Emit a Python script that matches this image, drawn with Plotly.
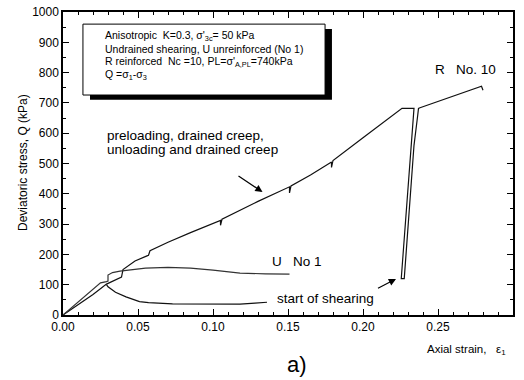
import plotly.graph_objects as go

# Reinforced specimen R (No. 10): preloading with creep/unloading marks,
# then the undrained shearing loop and continued loading.
r_strain = [0.0, 0.010, 0.020, 0.029, 0.035, 0.039, 0.040, 0.048, 0.056, 0.057, 0.058,
            0.070, 0.085, 0.105, 0.105, 0.106, 0.130, 0.151, 0.151, 0.152, 0.165, 0.179,
            0.179, 0.180, 0.200, 0.226, 0.234, 0.2255, 0.2275, 0.230, 0.234, 0.2365, 0.237,
            0.238, 0.250, 0.265, 0.279, 0.280]
r_stress = [0, 33, 68, 102, 116, 125, 150, 178, 195, 197, 212,
            240, 272, 312, 296, 316, 375, 423, 403, 426, 462, 505,
            487, 510, 585, 682, 682, 120, 120, 300, 560, 660, 682,
            684, 705, 730, 755, 742]

# Unreinforced specimen U (No. 1), undrained shearing
u_strain = [0.0, 0.010, 0.020, 0.025, 0.029, 0.030, 0.030, 0.033, 0.038, 0.045, 0.055,
            0.070, 0.085, 0.100, 0.118, 0.135, 0.151]
u_stress = [0, 42, 84, 106, 110, 112, 132, 140, 145, 150, 155,
            157, 155, 148, 138, 136, 135]

# Lower branch following the peak of U
low_strain = [0.029, 0.030, 0.035, 0.042, 0.051, 0.057, 0.073, 0.095, 0.118, 0.128, 0.136]
low_stress = [100, 93, 75, 60, 44, 41, 37, 36, 36, 39, 42]

x_ticks = [0.00, 0.05, 0.10, 0.15, 0.20, 0.25, 0.30]
y_ticks = [0, 100, 200, 300, 400, 500, 600, 700, 800, 900, 1000]

FONT = "Liberation Sans, Arial, sans-serif"

fig = go.Figure()
for xs, ys, col in [(r_strain, r_stress, "#111"), (u_strain, u_stress, "#333"),
                    (low_strain, low_stress, "#111")]:
    fig.add_trace(go.Scatter(x=xs, y=ys, mode="lines",
                             line=dict(color=col, width=1.2), showlegend=False,
                             hoverinfo="skip"))

axis_common = dict(showline=True, linecolor="black", linewidth=1.5, mirror="allticks",
                   ticks="inside", ticklen=6, tickwidth=1.2, tickcolor="black",
                   showgrid=False, zeroline=False, automargin=False,
                   tickfont=dict(family=FONT, size=12, color="black"))

fig.update_xaxes(range=[0, 0.30], tickvals=x_ticks, tickformat=".2f",
                 minor=dict(dtick=0.01, ticks="inside", ticklen=3, tickcolor="black"),
                 **axis_common)
fig.update_yaxes(range=[0, 1000], tickvals=y_ticks,
                 minor=dict(dtick=50, ticks="inside", ticklen=3, tickcolor="black"),
                 **axis_common)

# Info box with drop shadow
fig.add_shape(type="rect", xref="x", yref="y", x0=0.0180, x1=0.1793, y0=710, y1=944,
              fillcolor="black", line=dict(width=0), layer="above")
fig.add_shape(type="rect", xref="x", yref="y", x0=0.0133, x1=0.1747, y0=726, y1=960,
              fillcolor="white", line=dict(color="black", width=1), layer="above")

box_lines = [
    ("Anisotropic  K=0.3, σ'<sub>3c</sub>= 50 kPa", 921),
    ("Undrained shearing, U unreinforced (No 1)", 878),
    ("R reinforced  Nc =10, PL=σ'<sub>A,PL</sub>=740kPa", 835),
    ("Q =σ<sub>1</sub>-σ<sub>3</sub>", 792),
]
for txt, yv in box_lines:
    fig.add_annotation(x=0.0267, y=yv, xref="x", yref="y", text=txt, showarrow=False,
                       xanchor="left", yanchor="middle",
                       font=dict(family=FONT, size=10.5, color="black"))

labels = [
    ("preloading, drained creep,", 0.028, 594, "left"),
    ("unloading and drained creep", 0.028, 545, "left"),
    ("R   No. 10", 0.268, 809, "center"),
    ("U   No 1", 0.156, 175, "center"),
    ("start of shearing", 0.1413, 53, "left"),
]
for txt, xv, yv, anc in labels:
    fig.add_annotation(x=xv, y=yv, xref="x", yref="y", text=txt, showarrow=False,
                       xanchor=anc, yanchor="middle",
                       font=dict(family=FONT, size=13.5, color="black"))

# Pointer arrows
for hx, hy, tx, ty in [(0.133, 406, 0.116, 462), (0.222, 119, 0.209, 86)]:
    fig.add_annotation(x=hx, y=hy, ax=tx, ay=ty, xref="x", yref="y", axref="x", ayref="y",
                       text="", showarrow=True, arrowhead=2, arrowsize=1.2,
                       arrowwidth=1.2, arrowcolor="black")

# Axis titles and panel label
fig.add_annotation(x=-0.0889, y=0.505, xref="paper", yref="paper",
                   xanchor="center", yanchor="middle",
                   text="Deviatoric stress, Q (kPa)", textangle=-90, showarrow=False,
                   font=dict(family=FONT, size=12, color="black"))
fig.add_annotation(x=0.896, y=-0.1155, xref="paper", yref="paper",
                   xanchor="center", yanchor="middle",
                   text="Axial strain,   ε<sub>1</sub>", showarrow=False,
                   font=dict(family=FONT, size=11.5, color="black"))
fig.add_annotation(x=0.52, y=-0.162, xref="paper", yref="paper",
                   xanchor="center", yanchor="middle",
                   text="a)", showarrow=False,
                   font=dict(family=FONT, size=22, color="black"))

fig.update_layout(width=524, height=380, margin=dict(l=63, r=11, t=12, b=65),
                  paper_bgcolor="white", plot_bgcolor="white")

fig.write_html("out.html")
